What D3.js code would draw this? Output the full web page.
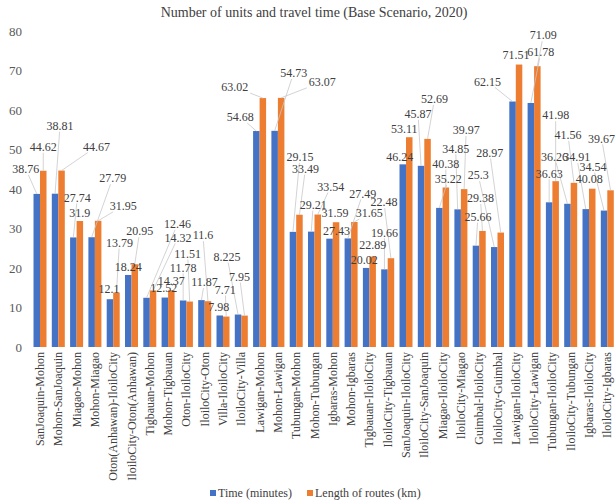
<!DOCTYPE html>
<html>
<head>
<meta charset="utf-8">
<script src="https://cdn.jsdelivr.net/npm/d3@7"></script>
<style>
  html, body { margin: 0; padding: 0; background: #fff; }
  svg { display: block; font-family: "Liberation Serif", "Times New Roman", serif; }
</style>
</head>
<body>
<svg id="chart" width="615" height="502"></svg>
<script>
// Route pairs and their values
const categories = [
  "SanJoaquin-Mohon", "Mohon-SanJoaquin", "Miagao-Mohon", "Mohon-Miagao",
  "Oton(Anhawan)-IloiloCity", "IloiloCity-Oton(Anhawan)", "Tigbauan-Mohon", "Mohon-Tigbauan",
  "Oton-IloiloCity", "IloiloCity-Oton", "Villa-IloiloCity", "IloiloCity-Villa",
  "Lawigan-Mohon", "Mohon-Lawigan", "Tubungan-Mohon", "Mohon-Tubungan",
  "Igbaras-Mohon", "Mohon-Igbaras", "Tigbauan-IloiloCity", "IloiloCity-Tigbauan",
  "SanJoaquin-IloiloCity", "IloiloCity-SanJoaquin", "Miagao-IloiloCity", "IloiloCity-Miagao",
  "Guimbal-IloiloCity", "IloiloCity-Guimbal", "Lawigan-IloiloCity", "IloiloCity-Lawigan",
  "Tubungan-IloiloCity", "IloiloCity-Tubungan", "Igbaras-IloiloCity", "IloiloCity-Igbaras"
];
const timeMinutes = [
  38.76, 38.81, 27.74, 27.79, 12.1, 18.24, 12.46, 12.52,
  11.78, 11.87, 7.98, 8.225, 54.68, 54.73, 29.15, 29.21,
  27.43, 27.49, 20.02, 19.66, 46.24, 45.87, 35.22, 34.85,
  25.66, 25.3, 62.15, 61.78, 36.63, 36.26, 34.91, 34.54
];
const routeLengthKm = [
  44.62, 44.67, 31.9, 31.95, 13.79, 20.95, 14.32, 14.37,
  11.51, 11.6, 7.71, 7.95, 63.02, 63.07, 33.49, 33.54,
  31.59, 31.65, 22.89, 22.48, 53.11, 52.69, 40.38, 39.97,
  29.38, 28.97, 71.51, 71.09, 41.98, 41.56, 40.08, 39.67
];
const yTicks = [0, 10, 20, 30, 40, 50, 60, 70, 80];
const seriesNames = ["Time (minutes)", "Length of routes (km)"];

// Hand-placed data label offsets (px from the top centre of each bar)
const timeLabelOffsets = [
  [-11, -25], [5, -68], [4, -40], [21, -59], [-1, -10], [0, -8], [31, -74], [-1, -10],
  [0, -33], [3, -18], [-1, -9], [-11, -58], [-16, -14], [19, -58], [7, -75], [2, -27],
  [7, -8], [15, -45], [-2, -8], [0, -37], [-3, -8], [-3, -52], [9, -29], [-2, -61],
  [2, -29], [-16, -72], [-25, -20], [10, -51], [0, -29], [-13, -47], [-9, -52], [-11, -44]
];
const lengthLabelOffsets = [
  [0, -24], [35, -24], [0, -8], [25, -15], [3, -50], [5, -33], [25, -53], [0, -9],
  [-2, -48], [-5, -66], [-1, -27], [-5, -39], [-28, -11], [41, -16], [6, -46], [13, -28],
  [-1, -9], [15, -9], [0, -12], [-7, -56], [-5, -8], [7, -40], [0, -24], [2, -59],
  [-2, -33], [-11, -80], [-3, -10], [6, -31], [0, -66], [-6, -48], [-3, -10], [-9, -52]
];

const colors = ["#4472C4", "#ED7D31"];
const textColor = "#404040";

const svg = d3.select("#chart");

const x = d3.scaleBand()
  .domain(categories)
  .range([30.85, 616.45])
  .paddingInner(0.29)
  .paddingOuter(0.145);

const xSeries = d3.scaleBand()
  .domain([0, 1])
  .range([0, x.bandwidth()]);

const y = d3.scaleLinear().domain([0, 80]).range([347, 31]);

// Title
svg.append("text")
  .attr("x", 314)
  .attr("y", 17)
  .attr("text-anchor", "middle")
  .attr("font-size", 14)
  .attr("fill", textColor)
  .text("Number of units and travel time (Base Scenario, 2020)");

// Y axis (labels only)
const yAxis = svg.append("g")
  .attr("transform", "translate(25,0)")
  .call(d3.axisLeft(y).tickValues(yTicks).tickSize(0).tickPadding(3));
yAxis.select(".domain").remove();
yAxis.selectAll("text")
  .attr("font-family", "Liberation Serif, Times New Roman, serif")
  .attr("font-size", 13)
  .attr("fill", "#595959");

// Bars
const series = [timeMinutes, routeLengthKm];
const offsets = [timeLabelOffsets, lengthLabelOffsets];

series.forEach((values, s) => {
  svg.append("g")
    .selectAll("rect")
    .data(values)
    .join("rect")
    .attr("x", (d, i) => x(categories[i]) + xSeries(s))
    .attr("y", d => y(d))
    .attr("width", xSeries.bandwidth())
    .attr("height", d => y(0) - y(d))
    .attr("fill", colors[s]);
});

// Data labels with leader lines
const leaderG = svg.append("g");
const labelG = svg.append("g");

series.forEach((values, s) => {
  values.forEach((v, i) => {
    const bx = x(categories[i]) + xSeries(s) + xSeries.bandwidth() / 2;
    const by = y(v);
    const [dx, dy] = offsets[s][i];
    const lx = bx + dx, ly = by + dy;
    const label = String(v);
    const halfW = label.length * 3.0 + 1, halfH = 6;

    const dist = Math.hypot(dx, dy);
    if (dist > 15) {
      // leave the label box on the side facing the bar
      const tx = dx !== 0 ? halfW / Math.abs(dx) : Infinity;
      const ty = dy !== 0 ? halfH / Math.abs(dy) : Infinity;
      const t = Math.min(tx, ty);
      if (t < 1) {
        const sx = lx - dx * t, sy = ly - dy * t;
        leaderG.append("line")
          .attr("x1", sx).attr("y1", sy)
          .attr("x2", bx).attr("y2", by)
          .attr("stroke", "#c8c8c8")
          .attr("stroke-width", 0.8);
      }
    }

    labelG.append("text")
      .attr("x", lx)
      .attr("y", ly)
      .attr("dy", "0.35em")
      .attr("text-anchor", "middle")
      .attr("font-size", 12)
      .attr("fill", textColor)
      .text(label);
  });
});

// Category labels, rotated
svg.append("g")
  .selectAll("text")
  .data(categories)
  .join("text")
  .attr("transform", d => `translate(${x(d) + x.bandwidth() / 2 + 4},352) rotate(-90)`)
  .attr("text-anchor", "end")
  .attr("font-size", 12)
  .attr("fill", textColor)
  .text(d => d);

// Legend
const legend = svg.append("g").attr("transform", "translate(0,493)");
const legendX = [210, 307];
seriesNames.forEach((name, s) => {
  legend.append("rect")
    .attr("x", legendX[s])
    .attr("y", -3)
    .attr("width", 6)
    .attr("height", 6)
    .attr("fill", colors[s]);
  legend.append("text")
    .attr("x", legendX[s] + 8)
    .attr("y", 0)
    .attr("dy", "0.35em")
    .attr("font-size", 12)
    .attr("fill", textColor)
    .text(name);
});
</script>
</body>
</html>
